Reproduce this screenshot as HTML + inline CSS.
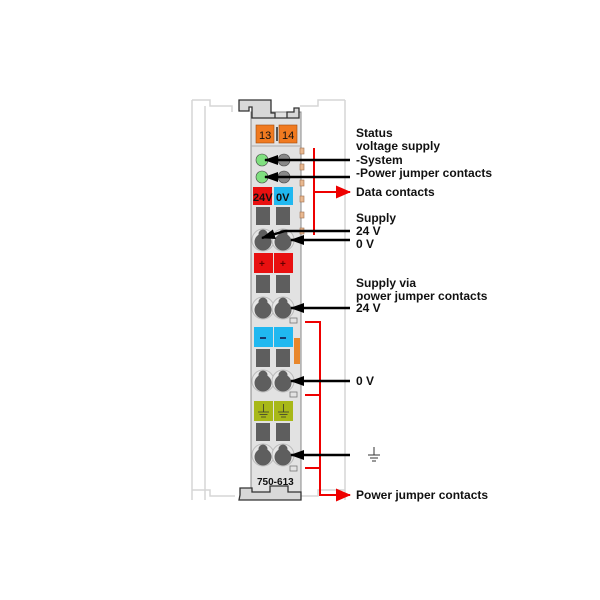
<!DOCTYPE html>
<html><head><meta charset="utf-8"><style>
html,body{margin:0;padding:0;background:#fff;width:600px;height:600px;overflow:hidden}
text{font-family:"Liberation Sans",sans-serif;font-weight:bold;font-size:12px;fill:#111}
</style></head><body>
<svg width="600" height="600" viewBox="0 0 600 600" xmlns="http://www.w3.org/2000/svg">
<defs>
<marker id="ab" markerWidth="14" markerHeight="10" refX="13" refY="5" orient="auto" markerUnits="userSpaceOnUse"><path d="M0,0 L14,5 L0,10 Z" fill="#000"/></marker>
<marker id="ar" markerWidth="15" markerHeight="13" refX="14" refY="6.5" orient="auto" markerUnits="userSpaceOnUse"><path d="M0,0 L15,6.5 L0,13 Z" fill="#e00"/></marker>
<g id="term"><circle cx="0" cy="0" r="11" fill="#e6e6e6" stroke="#bbb"/><circle cx="0" cy="2" r="8.5" fill="#5e5e5e"/><circle cx="0" cy="-6" r="4.5" fill="#5e5e5e"/></g>
</defs>
<!-- ghost rails -->
<g fill="none" stroke="#d6d6d6" stroke-width="1.5">
<path d="M192,100 H210 V106 H232 V112"/>
<path d="M300,106 H318 V100 H345"/>
<path d="M192,100 V500"/><path d="M205,106 V500"/>
<path d="M345,100 V500"/>
<path d="M192,490 H210 V496 H235"/><path d="M300,496 H318 V490 H345"/>
</g>
<!-- module -->
<rect x="251" y="112" width="50" height="383" fill="#e2e2e2" stroke="#888" stroke-width="1"/>
<path d="M239,111 V100 H271 V113 H275 V118 H287 V112 H294 V108 H299 V118 H252 V107 H249 V111 Z" fill="#d8d8d8" stroke="#333" stroke-width="1.3"/>
<path d="M240,495 V488 H252 V492 H270 V486 H288 V492 H301 V500 H239 Z" fill="#d8d8d8" stroke="#333" stroke-width="1.3"/>
<line x1="251" y1="146" x2="301" y2="146" stroke="#aaa"/>
<!-- side tabs -->
<g fill="#e8b890" stroke="#a07050" stroke-width="0.6">
<rect x="300" y="148" width="4" height="6"/><rect x="300" y="164" width="4" height="6"/><rect x="300" y="180" width="4" height="6"/><rect x="300" y="196" width="4" height="6"/><rect x="300" y="212" width="4" height="6"/><rect x="300" y="228" width="4" height="6"/>
</g>
<rect x="294" y="338" width="6" height="26" fill="#e8862a"/>
<g fill="none" stroke="#777" stroke-width="0.8">
<rect x="290" y="318" width="7" height="5"/><rect x="290" y="392" width="7" height="5"/><rect x="290" y="466" width="7" height="5"/>
</g>
<!-- 13 14 -->
<rect x="256" y="125" width="18" height="18" fill="#f07a20" stroke="#a04a10" stroke-width="0.6"/>
<rect x="276" y="127" width="2" height="14" fill="#555"/>
<rect x="279" y="125" width="18" height="18" fill="#f07a20" stroke="#a04a10" stroke-width="0.6"/>
<text x="259" y="139" style="font-weight:normal;font-size:11px">13</text>
<text x="282" y="139" style="font-weight:normal;font-size:11px">14</text>
<!-- LEDs -->
<circle cx="262" cy="160" r="6" fill="#7fe07f" stroke="#444" stroke-width="0.6"/>
<circle cx="284" cy="160" r="6" fill="#888" stroke="#444" stroke-width="0.6"/>
<circle cx="262" cy="177" r="6" fill="#7fe07f" stroke="#444" stroke-width="0.6"/>
<circle cx="284" cy="177" r="6" fill="#888" stroke="#444" stroke-width="0.6"/>
<!-- 24V 0V -->
<rect x="253" y="187" width="19" height="18" fill="#e81010"/>
<rect x="274" y="187" width="19" height="18" fill="#20b8f0"/>
<text x="253" y="201" style="font-size:11px">24V</text>
<text x="276" y="201" style="font-size:11px">0V</text>
<!-- squares -->
<g fill="#5e5e5e">
<rect x="256" y="207" width="14" height="18"/><rect x="276" y="207" width="14" height="18"/>
<rect x="256" y="275" width="14" height="18"/><rect x="276" y="275" width="14" height="18"/>
<rect x="256" y="349" width="14" height="18"/><rect x="276" y="349" width="14" height="18"/>
<rect x="256" y="423" width="14" height="18"/><rect x="276" y="423" width="14" height="18"/>
</g>
<use href="#term" x="263" y="240"/><use href="#term" x="283" y="240"/>
<use href="#term" x="263" y="308"/><use href="#term" x="283" y="308"/>
<use href="#term" x="263" y="381"/><use href="#term" x="283" y="381"/>
<use href="#term" x="263" y="455"/><use href="#term" x="283" y="455"/>
<!-- + boxes -->
<rect x="254" y="253" width="19" height="20" fill="#e81010"/><rect x="274" y="253" width="19" height="20" fill="#e81010"/>
<text x="259" y="267" style="font-size:10px;fill:#600">+</text><text x="280" y="267" style="font-size:10px;fill:#600">+</text>
<rect x="254" y="327" width="19" height="20" fill="#20b8f0"/><rect x="274" y="327" width="19" height="20" fill="#20b8f0"/>
<line x1="260" y1="338" x2="266" y2="338" stroke="#114" stroke-width="1.5"/><line x1="280" y1="338" x2="286" y2="338" stroke="#114" stroke-width="1.5"/>
<rect x="254" y="401" width="19" height="20" fill="#a8b818"/><rect x="274" y="401" width="19" height="20" fill="#a8b818"/>
<g stroke="#333" stroke-width="0.8">
<path d="M263.5,404 V412 M258,412 H269 M259.5,414.5 H267.5 M261,417 H266"/>
<path d="M283.5,404 V412 M278,412 H289 M279.5,414.5 H287.5 M281,417 H286"/>
</g>
<text x="257" y="485" style="font-size:10px">750-613</text>
<!-- red lines -->
<g stroke="#e00" stroke-width="2" fill="none">
<line x1="314" y1="148" x2="314" y2="235"/>
<line x1="314" y1="192" x2="350" y2="192" marker-end="url(#ar)"/>
<path d="M305,322 H320 V495 H350" marker-end="url(#ar)"/>
<line x1="305" y1="395" x2="320" y2="395"/>
<line x1="305" y1="468" x2="320" y2="468"/>
</g>
<!-- black arrows -->
<g stroke="#000" stroke-width="2.4" fill="none">
<line x1="350" y1="160" x2="265" y2="160" marker-end="url(#ab)"/>
<line x1="350" y1="177" x2="265" y2="177" marker-end="url(#ab)"/>
<path d="M350,231 H285 L262,238" marker-end="url(#ab)"/>
<line x1="350" y1="240" x2="291" y2="240" marker-end="url(#ab)"/>
<line x1="350" y1="308" x2="291" y2="308" marker-end="url(#ab)"/>
<line x1="350" y1="381" x2="291" y2="381" marker-end="url(#ab)"/>
<line x1="350" y1="455" x2="291" y2="455" marker-end="url(#ab)"/>
</g>
<!-- labels -->
<text x="356" y="137">Status</text>
<text x="356" y="150">voltage supply</text>
<text x="356" y="164">-System</text>
<text x="356" y="177">-Power jumper contacts</text>
<text x="356" y="196">Data contacts</text>
<text x="356" y="222">Supply</text>
<text x="356" y="235">24 V</text>
<text x="356" y="248">0 V</text>
<text x="356" y="287">Supply via</text>
<text x="356" y="300">power jumper contacts</text>
<text x="356" y="312">24 V</text>
<text x="356" y="385">0 V</text>
<g stroke="#333" stroke-width="1"><path d="M374,447 V455 M368,455 H380 M370,458 H378 M372,461 H376"/></g>
<text x="356" y="499">Power jumper contacts</text>
</svg>
</body></html>
